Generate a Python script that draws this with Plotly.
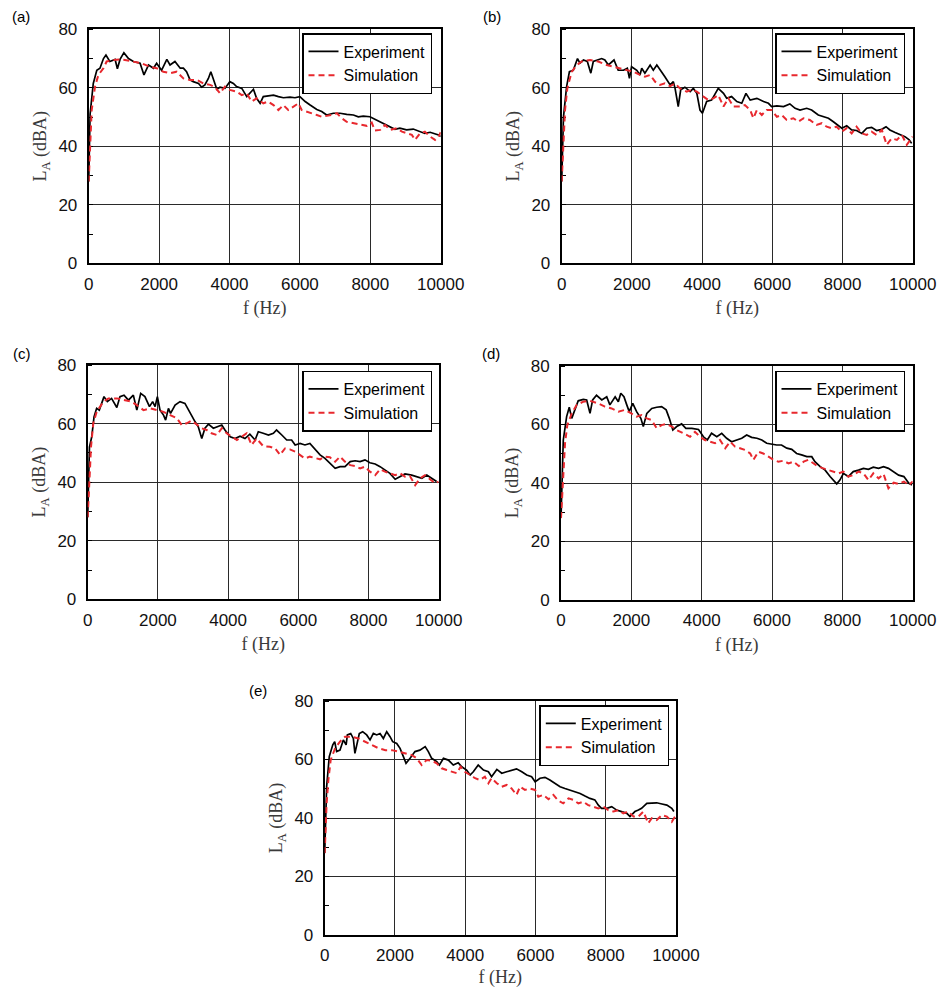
import plotly.graph_objects as go

# ---------------- data ----------------
panel_labels = ["(a)", "(b)", "(c)", "(d)", "(e)"]
series_names = ["Experiment", "Simulation"]
x_ticks = [0, 2000, 4000, 6000, 8000, 10000]
y_ticks = [0, 20, 40, 60, 80]
x_title = "f (Hz)"
y_title = "L<sub>A</sub> (dBA)"

a_exp_f = [0, 40, 130, 230, 320, 420, 490, 600, 750, 815, 890, 1000, 1130, 1270, 1460, 1570, 1700, 1840, 1930, 2070,
           2220, 2310, 2450, 2600, 2690, 2780, 2880, 2970, 3120, 3210, 3300, 3400, 3470, 3540, 3640, 3730, 3870, 4010,
           4110, 4200, 4350, 4490, 4580, 4680, 4770, 4870, 4960, 5100, 5250, 5390, 5530, 5720, 5860, 6000, 6150, 6290,
           6480, 6620, 6760, 6950, 7140, 7330, 7520, 7660, 7800, 7990, 8180, 8370, 8560, 8700, 8840, 9030, 9220, 9410,
           9550, 9700, 9840, 9940, 10000]
a_exp_L = [28, 51, 61.5, 66, 66.7, 70, 71.2, 69, 69.7, 66.5, 69.7, 72, 70, 69, 68.4, 64.4, 67.8, 66.7, 68.4, 66,
           69.7, 67.8, 69, 66.7, 66.7, 65.5, 62.7, 62.1, 61.5, 60.2, 61, 63.2, 65.5, 62.7, 59.5, 60.2, 59.8, 62.1,
           61.5, 60.4, 59.8, 57, 58.1, 59.5, 56.4, 54.7, 57, 57.2, 57.5, 57, 56.6, 56.8, 56.6, 57, 55.3, 54.1,
           52.6, 51.9, 50.7, 51.3, 51.3, 50.9, 50.7, 50.1, 50.3, 50.1, 49, 47.9, 46.7, 45.8, 46.2, 45.6, 45.9, 45,
           44.4, 44.8, 44.4, 43.9, 43.3]
a_sim_f = [0, 40, 85, 180, 275, 420, 510, 700, 890, 1030, 1270, 1500, 1740, 1930, 2120, 2310, 2500, 2690, 2880, 3070,
           3260, 3450, 3590, 3730, 3870, 4010, 4200, 4350, 4490, 4630, 4770, 4960, 5100, 5250, 5390, 5530, 5670, 5810,
           5960, 6050, 6190, 6340, 6480, 6620, 6760, 6900, 7050, 7190, 7330, 7520, 7710, 7900, 8040, 8130, 8280, 8420,
           8560, 8750, 8900, 9030, 9180, 9270, 9410, 9550, 9700, 9840, 9940, 10000]
a_sim_L = [28, 39.9, 52.4, 60.4, 64.4, 66.7, 69, 69.5, 69.7, 69.5, 69, 68.4, 67.2, 66.7, 65.5, 65, 65.5, 63.2, 62.7, 62.7,
           61.5, 61, 60.2, 58.1, 60.4, 59.3, 58.7, 57.5, 58.1, 55.3, 56.4, 54.7, 55.3, 54.1, 52.4, 54.1, 52.4, 53.6,
           54.7, 52.4, 51.9, 51.3, 50.7, 50.1, 50.3, 50.7, 51.3, 49.6, 48.4, 47.9, 47.3, 47, 48.1, 45.4, 45.6, 47.3,
           45.6, 46.2, 45, 44.4, 43.9, 42.2, 44.4, 45, 43.3, 42.2, 43.3, 44.8]

b_exp_f = [0, 50, 140, 220, 330, 450, 520, 620, 730, 830, 900, 1040, 1140, 1230, 1330, 1490, 1610, 1760, 1870, 1930,
           1990, 2140, 2230, 2280, 2370, 2520, 2610, 2710, 2850, 2940, 3090, 3180, 3230, 3320, 3390, 3510, 3660, 3750,
           3850, 3940, 4010, 4130, 4270, 4460, 4610, 4700, 4840, 4990, 5130, 5250, 5370, 5560, 5750, 5890, 5980, 6130,
           6320, 6500, 6650, 6790, 6980, 7120, 7310, 7460, 7600, 7740, 7880, 7980, 8120, 8260, 8400, 8550, 8690, 8830,
           8970, 9120, 9240, 9350, 9500, 9640, 9780, 9900, 9970]
b_exp_L = [28, 50, 60.4, 65.5, 66, 70, 68.4, 69.5, 69, 65, 69, 69.5, 70, 69.5, 67.8, 69.5, 66, 66, 66.7, 63.2,
           67.2, 66, 64.4, 66.7, 65, 67.8, 66, 67.8, 65.5, 63.8, 61, 62.1, 59.8, 53.6, 59.3, 60.2, 58.7, 59.8,
           58.1, 52.4, 51.3, 55.3, 55.8, 59.8, 58.1, 56.4, 57, 55.3, 54.7, 58.1, 55.8, 56.4, 55.3, 54.7, 53.6, 53.8,
           53.6, 54.5, 53, 52.4, 53, 52.4, 50.7, 50.1, 49.6, 48.4, 47, 46.2, 47, 45.6, 45.4, 44.4, 46.2, 46.5,
           45.4, 45.8, 46.7, 45.6, 44.7, 44.1, 43.3, 42.2, 41]
b_sim_f = [0, 50, 95, 160, 285, 430, 570, 810, 1040, 1280, 1470, 1660, 1850, 2040, 2230, 2370, 2520, 2660, 2800, 2940,
           3090, 3230, 3370, 3560, 3700, 3850, 4040, 4180, 4320, 4460, 4610, 4750, 4890, 5080, 5220, 5370, 5460, 5560,
           5700, 5840, 5980, 6130, 6270, 6410, 6600, 6740, 6890, 7070, 7260, 7410, 7550, 7690, 7830, 7980, 8120, 8260,
           8400, 8550, 8690, 8830, 8970, 9120, 9260, 9400, 9550, 9690, 9830, 9930, 10000]
b_sim_L = [28, 39.9, 52.4, 59.8, 65.5, 67.8, 69, 69.5, 69, 67.8, 67.2, 66.7, 66, 65.5, 64.4, 63.8, 64.4, 62.1, 61, 61.5,
           60.6, 61.5, 59.8, 58.7, 59.3, 58.7, 57, 55.8, 56.4, 57.5, 53.6, 56.4, 53.6, 53.6, 54.1, 52.4, 49.6, 52.4,
           50.7, 52.4, 52.4, 50.1, 50.7, 49, 49.6, 48.4, 49.6, 49, 47.3, 47.9, 46.7, 46.2, 46.7, 45, 46.2, 44.4,
           46.7, 44.4, 43.9, 45, 43.9, 45.6, 40.5, 42.7, 42.2, 43.9, 40.5, 42.2, 43.3]

c_exp_f = [0, 50, 115, 180, 255, 330, 465, 560, 680, 830, 920, 1035, 1160, 1300, 1400, 1510, 1630, 1760, 1850, 1920,
           1985, 2060, 2160, 2220, 2300, 2360, 2490, 2630, 2770, 2870, 2960, 3060, 3150, 3250, 3340, 3440, 3580, 3690,
           3820, 3910, 4060, 4200, 4340, 4480, 4620, 4770, 4860, 5000, 5150, 5290, 5380, 5530, 5670, 5810, 5910, 6050,
           6190, 6330, 6480, 6620, 6760, 6900, 7050, 7190, 7330, 7480, 7620, 7760, 7900, 8040, 8190, 8330, 8470, 8610,
           8760, 8900, 9040, 9230, 9370, 9520, 9660, 9800, 9940]
c_exp_L = [28, 52, 55.5, 62.3, 65.2, 64.6, 69.2, 67.5, 68.6, 65.5, 69.2, 69.7, 68, 69.7, 64.6, 70.3, 69.2, 65.8, 67.5, 65.8,
           69.2, 64.6, 62.9, 61.2, 65.2, 63.5, 66.3, 67.5, 66.9, 64.6, 62.9, 60.6, 58.9, 54.9, 58.4, 59.8, 58.4, 58.9,
           59.5, 57.8, 55.5, 54.9, 55.7, 54.9, 56.4, 54.4, 57.2, 56.7, 56.1, 56.7, 57.8, 56.1, 54.4, 54.4, 52.7, 53.2,
           52.7, 53.2, 51, 49.3, 48.1, 46.4, 44.7, 45.3, 45.3, 47, 47.3, 47, 47.6, 46.6, 46.2, 45.3, 44.1, 43,
           41, 41.9, 42.8, 42.4, 41.9, 41.3, 42.4, 41.3, 40.2]
c_sim_f = [0, 50, 95, 160, 255, 450, 590, 830, 1060, 1250, 1400, 1590, 1780, 1970, 2160, 2350, 2540, 2680, 2820, 2960,
           3110, 3250, 3390, 3530, 3680, 3820, 3960, 4100, 4250, 4390, 4530, 4670, 4810, 5000, 5190, 5340, 5480, 5620,
           5760, 5910, 6050, 6190, 6330, 6480, 6620, 6760, 6900, 7050, 7190, 7330, 7480, 7620, 7760, 7900, 8040, 8190,
           8330, 8470, 8610, 8760, 8900, 9040, 9180, 9330, 9470, 9610, 9760, 9900, 10000]
c_sim_L = [28, 41.9, 52.1, 60.1, 64, 67.5, 68.6, 68.6, 68, 67.5, 66.3, 64.6, 65.2, 64.6, 64, 62.9, 61.8, 59.5, 60.1, 61,
           59.5, 58.4, 57.8, 56.7, 56.1, 58.4, 56.7, 55.5, 54.4, 55.5, 56.7, 52.7, 54.9, 52.3, 52.1, 51.5, 49.3, 51.5,
           51.2, 50.4, 49.3, 48.1, 48.7, 48.1, 47.8, 48.7, 48.5, 47, 48.7, 47, 45.8, 45.5, 44.7, 45.3, 43.6, 42.4,
           44.4, 43.6, 43, 42.4, 43, 41.9, 42.1, 39, 41.3, 42.4, 40.9, 39.6, 40.2]

d_exp_f = [0, 65, 160, 235, 305, 400, 490, 635, 730, 825, 900, 1010, 1160, 1300, 1390, 1540, 1630, 1700, 1790, 1870,
           1940, 2040, 2150, 2270, 2340, 2440, 2580, 2720, 2860, 2990, 3080, 3180, 3290, 3430, 3550, 3720, 3910, 4050,
           4160, 4280, 4430, 4570, 4710, 4850, 4990, 5140, 5280, 5420, 5570, 5710, 5850, 5990, 6130, 6270, 6420, 6560,
           6700, 6840, 6990, 7130, 7220, 7370, 7510, 7650, 7790, 7840, 7930, 8030, 8170, 8310, 8460, 8600, 8740, 8880,
           9030, 9170, 9310, 9460, 9600, 9750, 9890, 9980]
d_exp_L = [28, 54.7, 62.7, 65.9, 62.1, 65.5, 68.1, 68.6, 68.4, 63.8, 68.4, 70, 68.4, 69.5, 66.7, 69.5, 67.8, 70.7, 69.5, 66.7,
           64.4, 67.2, 64.4, 62.1, 59.3, 63.8, 65.5, 65.9, 66.1, 65, 62.1, 58.1, 59.3, 60.2, 58.7, 58.7, 58.3, 55.8,
           54.7, 57, 55.8, 57, 55.3, 54.1, 54.7, 55.3, 56.4, 55.6, 55.3, 54.7, 53.6, 53.3, 53, 53, 51.9, 51.5,
           50.1, 49.6, 49, 49, 47.3, 45.6, 44.4, 42.2, 40.5, 39.7, 41, 43.3, 42.2, 43.9, 44.4, 45, 44.7, 45.4,
           45, 45.6, 45, 43.9, 42.7, 42.2, 39.9, 39.3]
d_sim_f = [0, 65, 115, 180, 305, 445, 635, 825, 1060, 1250, 1440, 1630, 1820, 2000, 2150, 2290, 2440, 2580, 2720, 2860,
           3000, 3150, 3290, 3480, 3670, 3810, 3950, 4090, 4240, 4380, 4520, 4670, 4810, 4950, 5090, 5230, 5380, 5470,
           5610, 5750, 5900, 6040, 6180, 6320, 6470, 6610, 6760, 6900, 7030, 7180, 7320, 7460, 7600, 7750, 7890, 8030,
           8170, 8310, 8460, 8600, 8740, 8880, 9030, 9170, 9310, 9460, 9600, 9750, 9890, 10000]
d_sim_L = [28, 41.6, 53.6, 59.8, 63.8, 66.7, 67.8, 68.1, 67.2, 66.1, 65.5, 64.4, 65, 63.8, 62.7, 63.2, 62.1, 61.5, 58.7, 59.8,
           60.2, 59.3, 58.1, 57, 55.8, 57.5, 55.8, 54.7, 54.1, 53.6, 54.7, 51.9, 54.1, 52.4, 51.9, 51.3, 50.1, 47.9,
           50.7, 50.1, 49, 47.9, 47.3, 47.6, 46.7, 47.3, 45.8, 47.3, 47.9, 46.7, 45.6, 45, 44.4, 43.9, 43.3, 43.9,
           42.2, 42.7, 43.9, 43.3, 41, 43.3, 41.6, 43.1, 38.2, 40.1, 39.7, 40.5, 39.3, 40.5]

e_exp_f = [0, 55, 130, 230, 285, 340, 435, 530, 610, 645, 740, 815, 860, 910, 985, 1080, 1195, 1290, 1385, 1480,
           1575, 1670, 1765, 1860, 1935, 2050, 2145, 2240, 2315, 2430, 2570, 2710, 2860, 2950, 3045, 3190, 3265, 3380,
           3520, 3660, 3800, 3900, 4040, 4140, 4230, 4370, 4520, 4660, 4750, 4900, 5040, 5180, 5320, 5460, 5610, 5750,
           5890, 5990, 6130, 6270, 6410, 6560, 6700, 6840, 6980, 7130, 7270, 7410, 7550, 7690, 7790, 7880, 8030, 8170,
           8310, 8450, 8600, 8690, 8830, 8930, 9020, 9170, 9310, 9450, 9600, 9740, 9880, 9940]
e_exp_L = [28, 50.7, 61, 65, 66.1, 62.7, 63.2, 66.7, 65, 68.4, 68.9, 67.2, 62.1, 65, 68.9, 69.5, 68.4, 66.7, 68.9, 68.4,
           68.9, 67.2, 69.5, 67.8, 66.1, 65.5, 63.8, 61, 58.7, 60.4, 62.7, 63.2, 64.4, 62.7, 60.4, 59.3, 58.1, 60.4,
           59.8, 58.1, 58.9, 57.5, 56.4, 54.7, 55.8, 58.1, 56.4, 55.8, 54.1, 56.6, 55.3, 55.8, 56.4, 56.8, 55.8, 54.7,
           54.1, 52.4, 53.6, 53.9, 53, 51.9, 50.7, 50.1, 49.6, 49, 48.4, 47.5, 46.7, 46.2, 44.4, 43.3, 43.3, 43.9,
           42.7, 42.2, 41.6, 40.5, 42.2, 42.7, 43.3, 45, 45.2, 45.2, 44.8, 44.4, 43.3, 42.2]
e_sim_f = [0, 55, 105, 170, 295, 435, 580, 770, 960, 1150, 1340, 1540, 1730, 1910, 2100, 2290, 2480, 2620, 2760, 2900,
           3045, 3190, 3330, 3470, 3610, 3760, 3870, 3990, 4140, 4280, 4420, 4560, 4660, 4750, 4900, 5040, 5180, 5320,
           5460, 5560, 5700, 5840, 5990, 6080, 6220, 6370, 6510, 6650, 6790, 6940, 7080, 7220, 7360, 7500, 7640, 7790,
           7930, 8070, 8220, 8360, 8500, 8640, 8790, 8930, 9070, 9210, 9310, 9450, 9600, 9740, 9880, 10000]
e_sim_L = [28, 45, 53, 59.8, 63.8, 66.1, 67.8, 67.8, 67.2, 66.1, 65, 63.8, 63.2, 63.2, 62.7, 62.1, 61.5, 60.4, 58.1, 59.8,
           59.6, 58.7, 57, 56.4, 55.8, 55.3, 57.5, 55.8, 54.7, 53.6, 53, 54.1, 51.9, 53.6, 51.9, 50.7, 51.3, 50.1,
           47.9, 50.7, 49.6, 50.1, 49.6, 47.3, 47.9, 46.4, 47.9, 45.9, 45, 46.7, 46.2, 45, 45.6, 44.4, 43.9, 43.3,
           43.9, 42.7, 42.2, 42.7, 41.6, 42.2, 40.5, 40.5, 42.2, 38.2, 39.9, 39.3, 41, 40.5, 38.7, 41]

panels = [
    (a_exp_f, a_exp_L, a_sim_f, a_sim_L),
    (b_exp_f, b_exp_L, b_sim_f, b_sim_L),
    (c_exp_f, c_exp_L, c_sim_f, c_sim_L),
    (d_exp_f, d_exp_L, d_sim_f, d_sim_L),
    (e_exp_f, e_exp_L, e_sim_f, e_sim_L),
]

# ---------------- layout geometry (pixels of the 940x988 page) ----------------
W, H = 940, 988
boxes = [  # plot areas: left, right, top, bottom
    (88.7, 440.7, 29.3, 263.3),
    (561.7, 912.7, 29.3, 263.3),
    (87.7, 438.7, 365.0, 599.3),
    (561.0, 912.7, 366.0, 600.0),
    (324.7, 676.0, 701.0, 935.0),
]
legend_anchor = [(432, 33), (905, 33), (432, 370.5), (905, 370.5), (669.3, 705)]
label_pos = [(21, 16.5), (492, 16.5), (21.5, 353.5), (491.5, 353.5), (258, 690)]

EXP_COLOR = "black"
SIM_COLOR = "#e8282e"
SANS = "Liberation Sans, Arial, sans-serif"
SERIF = "Liberation Serif, Times New Roman, serif"
TITLE_FONT = dict(family=SERIF, size=18, color="#3a3a3a")

fig = go.Figure()
layout = dict(
    width=W, height=H, margin=dict(l=0, r=0, t=0, b=0),
    paper_bgcolor="white", plot_bgcolor="white", showlegend=True,
)
annotations = []

for i, (ef, eL, sf, sL) in enumerate(panels):
    n = i + 1
    xs = "" if n == 1 else str(n)
    leg = "legend" if n == 1 else f"legend{n}"
    fig.add_trace(go.Scatter(x=ef, y=eL, mode="lines", name=series_names[0],
                             line=dict(color=EXP_COLOR, width=1.7),
                             xaxis="x" + xs, yaxis="y" + xs, legend=leg))
    fig.add_trace(go.Scatter(x=sf, y=sL, mode="lines", name=series_names[1],
                             line=dict(color=SIM_COLOR, width=2.0, dash="6px,4px"),
                             xaxis="x" + xs, yaxis="y" + xs, legend=leg))
    l, r, t, b = boxes[i]
    common = dict(showline=True, mirror=True, linecolor="black", linewidth=2,
                  showgrid=True, gridcolor="#2a2a2a", gridwidth=1, zeroline=False,
                  ticks="", automargin=False, layer="below traces",
                  tickfont=dict(family=SANS, size=17, color="#111"))
    layout["xaxis" + xs] = dict(common, domain=[l / W, r / W], anchor="y" + xs,
                                range=[0, 10000], tickvals=x_ticks,
                                ticktext=[str(v) for v in x_ticks], ticklabelstandoff=4,
                                title=dict(text=x_title, font=TITLE_FONT, standoff=9))
    layout["yaxis" + xs] = dict(common, domain=[1 - b / H, 1 - t / H], anchor="x" + xs,
                                range=[0, 80], tickvals=y_ticks,
                                ticktext=[str(v) for v in y_ticks], ticklabelstandoff=6,
                                title=dict(text=y_title, font=TITLE_FONT, standoff=7),
                                minor=dict(ticks="inside", ticklen=4, tickwidth=1,
                                           tickcolor="black", dtick=10, tick0=0, showgrid=False))
    lx, ly = legend_anchor[i]
    layout[leg] = dict(x=lx / W, y=1 - ly / H, xanchor="right", yanchor="top",
                       bgcolor="white", bordercolor="black", borderwidth=1.5,
                       font=dict(family=SANS, size=16, color="black"),
                       tracegroupgap=0, itemwidth=30)
    px, py = label_pos[i]
    annotations.append(dict(text=panel_labels[i], x=px / W, y=1 - py / H,
                            xref="paper", yref="paper", xanchor="center", yanchor="middle",
                            showarrow=False, font=dict(family=SANS, size=15, color="black")))

layout["annotations"] = annotations
fig.update_layout(**layout)
fig.write_html("out.html")
